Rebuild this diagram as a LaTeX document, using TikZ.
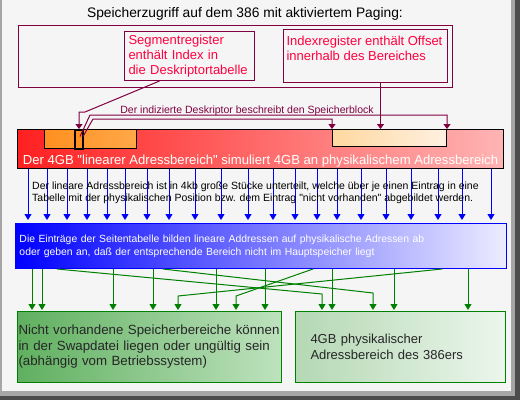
\documentclass[tikz,border=0pt]{standalone}
\usepackage{fontspec}
\setmainfont{Liberation Sans}[Ligatures=TeXOff]
\usetikzlibrary{positioning}
\usetikzlibrary{arrows.meta}
\definecolor{pagebg}{RGB}{245,245,245}
\definecolor{wine}{RGB}{128,0,64}
\definecolor{regred}{RGB}{255,0,64}
\definecolor{leafgreen}{RGB}{0,128,0}
\definecolor{barred}{RGB}{255,32,32}
\definecolor{barpink}{RGB}{255,180,180}
\definecolor{segorange}{RGB}{255,144,32}
\definecolor{segorangel}{RGB}{255,168,72}
\definecolor{peach}{RGB}{255,216,160}
\definecolor{cream}{RGB}{255,240,224}
\definecolor{paleblue}{RGB}{236,236,255}
\definecolor{swapgreen}{RGB}{96,176,96}
\definecolor{swapgreenl}{RGB}{190,226,190}
\definecolor{physgreen}{RGB}{180,216,180}
\definecolor{physgreenl}{RGB}{236,246,236}

\begin{document}
\begin{tikzpicture}[
  x=1pt, y=-1pt,
  font=\fontsize{13}{15}\selectfont,
  regbox/.style={draw=wine,line width=1pt,text=regred,align=left,inner sep=0pt,anchor=north west},
  barbox/.style={draw=black,line width=1pt,inner sep=0pt,anchor=north west},
  greenbox/.style={draw=leafgreen,line width=1pt,align=left,anchor=north west,minimum height=71pt,text=black!85},
  wineline/.style={draw=wine,line width=1pt,-{Triangle[width=7pt,length=5pt]}},
  bluearrow/.style={draw=blue,line width=1pt,-{Triangle[width=7pt,length=6pt]}},
  greenarrow/.style={draw=leafgreen,line width=1pt,-{Triangle[width=7pt,length=6pt]},shorten >=1pt}
]

  % frame
  \useasboundingbox (0,0) rectangle (520,400);
  \fill[pagebg] (0,0) rectangle (520,400);
  \fill[black!35] (0,0) rectangle (2,400);
  \fill[black!35] (511,0) rectangle (520,400);
  \fill[black!35] (0,391) rectangle (520,400);
  \fill[black!70] (515,0) rectangle (520,400);
  \fill[black!70] (0,396) rectangle (520,400);

  \node[font=\fontsize{13.8}{15}\selectfont] (title) at (245,14) {Speicherzugriff auf dem 386 mit aktiviertem Paging:};

  % registers
  \node[regbox, minimum width=434pt, minimum height=62pt] (regframe) at (18,25) {};
  \node[regbox, text width=122pt, inner xsep=4pt, minimum height=49pt] (segreg) at (124,31)
    {Segmentregister\\enthält Index in\\die Deskriptortabelle};
  \node[regbox, inner sep=3pt] (idxreg) at (283,29)
    {\parbox[c][47pt][t]{158pt}{\vspace*{4pt}Indexregister enthält Offset\\innerhalb des Bereiches}};

  % linear address space
  \node[barbox, minimum width=486pt, minimum height=39pt, left color=barred, right color=barpink] (linbar) at (17,129) {};
  \node[barbox, minimum width=92pt, minimum height=19pt, left color=segorange, right color=segorangel] (segblock) at (44,129) {};
  \node[barbox, line width=2pt, minimum width=8pt, minimum height=19pt, fill=segorange] (desc) at (74,129) {};
  \node[barbox, minimum width=114pt, minimum height=17pt, left color=peach, right color=cream] (block) at (332,129) {};
  \node[text=white, anchor=base, inner sep=0pt, font=\fontsize{13.1}{15}\selectfont] (bartext) at ([yshift=5pt]linbar.south)
    {Der 4GB "linearer Adressbereich" simuliert 4GB an physikalischem Adressbereich};

  \draw[wineline] ([xshift=-30pt]segreg.south) -- (85,112) -| (desc.north);
  \draw[wineline] ([xshift=1pt,yshift=3pt]desc.center) -- (90,115) -| (block.north east);
  \draw[wineline] ([xshift=4pt,yshift=3pt]desc.center) -- (93,119) -| (block.north west);
  \draw[wineline] ([xshift=15pt]idxreg.south) -- ([xshift=15pt]idxreg.south |- block.north);
  \node[text=wine, anchor=base, font=\fontsize{10.5}{12}\selectfont] (desclabel) at (247,113)
    {Der indizierte Deskriptor beschreibt den Speicherblock};

  % page table
  \node[draw=blue, line width=1pt, left color=blue, right color=paleblue, text=white, align=left,
        text width=483pt, inner xsep=4pt, minimum height=45pt, anchor=north west,
        font=\fontsize{10.4}{13}\selectfont] (tablebox) at (15,223)
    {Die Einträge der Seitentabelle bilden lineare Addressen auf physikalische Adressen ab\\
     oder geben an, daß der entsprechende Bereich nicht im Hauptspeicher liegt};

  \foreach \x in {28,47,67,87,107,125,147,169,195,221,248,273,295,317,337,361,386,411,438,462,491}
    \draw[bluearrow] (\x,0 |- linbar.south) -- ([yshift=3pt]\x,0 |- tablebox.north);

  \node[anchor=west, align=left, inner sep=0pt, font=\fontsize{10.5}{12}\selectfont] (splittext) at (32,193)
    {Der lineare Adressbereich ist in 4kb große Stücke unterteilt, welche über je einen Eintrag in eine\\
     Tabelle mit der physikalischen Position bzw. dem Eintrag "nicht vorhanden" abgebildet werden.};

  % physical memory
  \node[greenbox, left color=swapgreen, right color=swapgreenl, text width=262pt, inner xsep=1pt,
        font=\fontsize{13.3}{15.5}\selectfont] (swapbox) at (17,311)
    {Nicht vorhandene Speicherbereiche können\\in der Swapdatei liegen oder ungültig sein\\(abhängig vom Betriebssystem)};
  \node[greenbox, left color=physgreen, right color=physgreenl, text width=180pt, inner xsep=15pt,
        font=\fontsize{13}{15.5}\selectfont] (physbox) at (295,311)
    {4GB physikalischer\\Adressbereich des 386ers};

  \foreach \x in {32,42,113,153,216,265}
    \draw[greenarrow] (\x,0 |- tablebox.south) -- (\x,0 |- swapbox.north);
  \foreach \x in {332,394,468}
    \draw[greenarrow] (\x,0 |- tablebox.south) -- (\x,0 |- physbox.north);
  \draw[greenarrow] (57,0 |- tablebox.south) -- (322,294) -- (322,0 |- physbox.north);
  \draw[greenarrow] (163,0 |- tablebox.south) -- (373,293) -- (373,0 |- physbox.north);
  \draw[greenarrow] (313,0 |- tablebox.south) -- (236,296) -- (236,0 |- swapbox.north);
  \draw[greenarrow] (442,0 |- tablebox.south) -- (178,296) -- (178,0 |- swapbox.north);
\end{tikzpicture}
\end{document}
